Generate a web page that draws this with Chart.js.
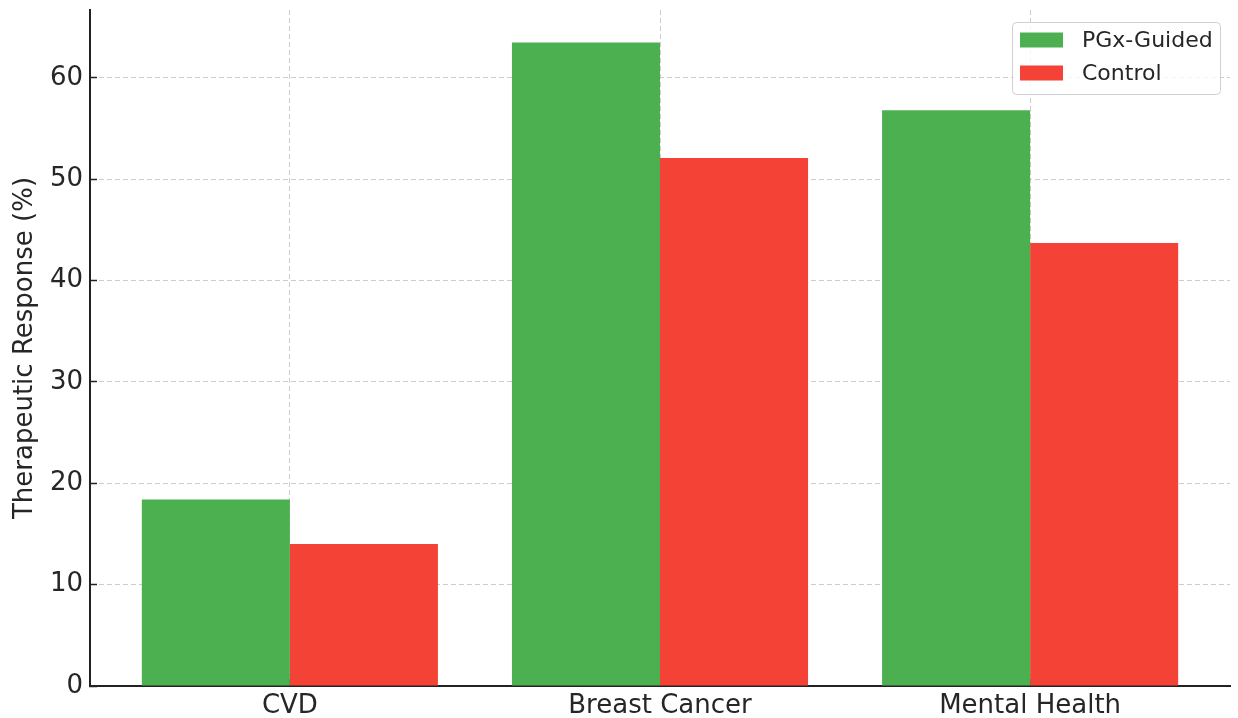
<!DOCTYPE html>
<html>
<head>
<meta charset="utf-8">
<script src="https://cdn.jsdelivr.net/npm/chart.js@4"></script>
<style>
  html, body { margin: 0; padding: 0; background: #ffffff; }
  #wrap { width: 1238px; height: 718px; position: relative; }
</style>
</head>
<body>
<div id="wrap"><canvas id="chart" width="1238" height="718"></canvas></div>
<script>
// Therapeutic response by indication, PGx-guided vs control
const categories = ['CVD', 'Breast Cancer', 'Mental Health'];
const pgxGuided = [18.4, 63.5, 56.8];
const control = [14.0, 52.1, 43.7];
const yTicks = [0, 10, 20, 30, 40, 50, 60];
const yMax = 66.7;

const FONT = 'DejaVu Sans';
const INK = '#262626';
const AXIS = '#222222';
const GRID = '#cccccc';

// Legend box drawn inside the plot, upper right
const insideLegend = {
  id: 'insideLegend',
  afterDraw(chart) {
    const ctx = chart.ctx;
    const area = chart.chartArea;
    const x = area.right - 218, y = area.top + 12, w = 208, h = 72;
    ctx.save();
    ctx.beginPath();
    ctx.roundRect(x + 0.5, y + 0.5, w, h, 4);
    ctx.fillStyle = 'rgba(255,255,255,0.8)';
    ctx.fill();
    ctx.strokeStyle = '#d0d0d0';
    ctx.lineWidth = 1;
    ctx.stroke();
    ctx.font = '22px "' + FONT + '"';
    ctx.textBaseline = 'middle';
    chart.data.datasets.forEach((ds, i) => {
      const cy = y + 18 + i * 33;
      ctx.fillStyle = ds.backgroundColor;
      ctx.fillRect(x + 8, cy - 7.5, 43, 15);
      ctx.fillStyle = INK;
      ctx.fillText(ds.label, x + 70, cy + 1);
    });
    ctx.restore();
  }
};

new Chart(document.getElementById('chart'), {
  type: 'bar',
  data: {
    datasets: [
      { label: 'PGx-Guided', data: pgxGuided.map((v, i) => ({ x: i, y: v })),
        backgroundColor: '#4CAF50', borderWidth: 0,
        categoryPercentage: 0.8, barPercentage: 1.0 },
      { label: 'Control', data: control.map((v, i) => ({ x: i, y: v })),
        backgroundColor: '#F44336', borderWidth: 0,
        categoryPercentage: 0.8, barPercentage: 1.0 }
    ]
  },
  options: {
    responsive: false,
    animation: false,
    devicePixelRatio: 1,
    layout: { padding: { top: 10, right: 8, left: 0, bottom: 0 } },
    plugins: { legend: { display: false }, tooltip: { enabled: false }, title: { display: false } },
    scales: {
      x: {
        type: 'linear',
        min: -0.54, max: 2.54,
        offset: false,
        z: 1,
        afterBuildTicks(scale) { scale.ticks = categories.map((c, i) => ({ value: i })); },
        afterFit(scale) { scale.height = 32; scale.paddingLeft = 0; scale.paddingRight = 0; },
        ticks: {
          callback: (v) => categories[v],
          font: { family: FONT, size: 26 }, color: INK, padding: 12, maxRotation: 0, autoSkip: false
        },
        grid: {
          offset: false,
          color: GRID, lineWidth: 1,
          drawTicks: true, tickLength: -7, tickColor: AXIS, tickWidth: 1.5, tickBorderDash: []
        },
        border: { display: true, color: AXIS, width: 2, dash: [5, 3] }
      },
      y: {
        min: 0, max: yMax,
        z: 1,
        afterBuildTicks(scale) { scale.ticks = yTicks.map(v => ({ value: v })); },
        afterFit(scale) { scale.width = 90; scale.paddingTop = 0; scale.paddingBottom = 0; },
        ticks: { font: { family: FONT, size: 26 }, color: INK, padding: 14 },
        grid: {
          color: GRID, lineWidth: 1,
          drawTicks: true, tickLength: -7, tickColor: AXIS, tickWidth: 1.5, tickBorderDash: []
        },
        border: { display: true, color: AXIS, width: 2, dash: [5, 3] },
        title: {
          display: true, text: 'Therapeutic Response (%)',
          font: { family: FONT, size: 26 }, color: INK, padding: { top: 10, bottom: 0 }
        }
      }
    }
  },
  plugins: [insideLegend]
});
</script>
</body>
</html>
